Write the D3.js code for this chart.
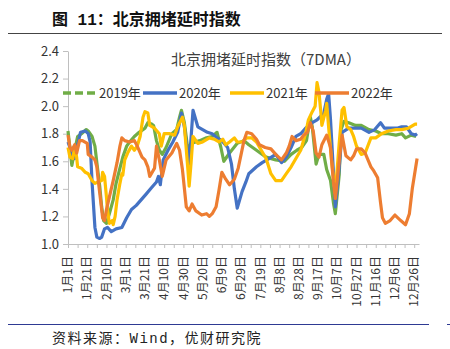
<!DOCTYPE html>
<html>
<head>
<meta charset="utf-8">
<script src="https://cdn.jsdelivr.net/npm/d3@7"></script>
<style>
  body { margin: 0; background: #fff; }
</style>
</head>
<body>
<div id="chart"></div>
<script>
// x labels every 20 days (day index from Jan 1)
var tickLabels = ["1月1日","1月21日","2月10日","3月1日","3月21日","4月10日","4月30日","5月20日","6月9日","6月29日",
                  "7月19日","8月8日","8月28日","9月17日","10月7日","10月27日","11月16日","12月6日","12月26日"];
var yTicks = [1.0, 1.2, 1.4, 1.6, 1.8, 2.0, 2.2, 2.4];
var seriesNames = ["2019年", "2020年", "2021年", "2022年"];

// [day, index]
var s2019 = [[0,1.82],[4,1.57],[7,1.68],[10,1.78],[14,1.80],[19,1.83],[21,1.82],[25,1.78],[28,1.71],[30,1.59],
  [33,1.42],[35,1.27],[37,1.17],[40,1.15],[43,1.22],[47,1.32],[50,1.44],[54,1.55],[57,1.63],[61,1.71],[64,1.74],
  [69,1.78],[74,1.81],[80,1.84],[83,1.88],[87,1.87],[89,1.86],[92,1.75],[95,1.68],[98,1.65],[102,1.70],[108,1.80],
  [113,1.83],[116,1.92],[118,1.97],[121,1.88],[124,1.72],[126,1.70],[129,1.73],[137,1.75],[144,1.77],[150,1.78],
  [155,1.81],[159,1.70],[162,1.60],[168,1.66],[176,1.73],[183,1.75],[188,1.72],[196,1.68],[206,1.63],[216,1.61],
  [225,1.60],[232,1.65],[238,1.68],[243,1.70],[248,1.75],[252,1.92],[254,1.85],[258,1.58],[261,1.65],[266,1.65],
  [269,1.54],[273,1.46],[276,1.30],[278,1.22],[282,1.50],[284,1.83],[287,1.89],[292,1.88],[299,1.86],[305,1.86],
  [313,1.83],[320,1.82],[326,1.80],[333,1.80],[341,1.79],[347,1.80],[351,1.77],[357,1.79],[362,1.78]];

var s2020 = [[0,1.74],[4,1.66],[7,1.62],[10,1.72],[13,1.81],[18,1.82],[21,1.80],[23,1.74],[25,1.45],[28,1.12],
  [30,1.05],[33,1.04],[35,1.05],[38,1.11],[41,1.12],[45,1.09],[50,1.11],[56,1.12],[61,1.19],[66,1.25],[71,1.28],
  [76,1.32],[81,1.36],[87,1.41],[92,1.45],[94,1.49],[96,1.43],[99,1.61],[104,1.68],[109,1.74],[114,1.81],[118,1.95],
  [121,1.85],[124,1.68],[126,1.58],[130,1.97],[135,1.85],[140,1.83],[145,1.81],[150,1.80],[155,1.77],[160,1.75],
  [166,1.70],[170,1.58],[173,1.40],[176,1.26],[181,1.38],[185,1.45],[188,1.51],[196,1.56],[202,1.59],[209,1.62],
  [216,1.65],[222,1.59],[227,1.63],[232,1.70],[237,1.78],[242,1.80],[247,1.84],[254,1.88],[259,1.90],[266,1.95],
  [269,2.05],[271,2.09],[273,1.90],[275,1.65],[278,1.27],[282,1.55],[285,1.81],[292,1.84],[299,1.84],[305,1.84],
  [313,1.81],[319,1.83],[325,1.88],[329,1.84],[335,1.84],[342,1.84],[347,1.85],[352,1.85],[357,1.80],[361,1.79],[363,1.80]];

var s2021 = [[0,1.70],[2,1.63],[5,1.62],[7,1.71],[9,1.63],[10,1.56],[14,1.55],[18,1.52],[21,1.51],[25,1.46],
  [28,1.44],[31,1.45],[35,1.46],[36,1.52],[38,1.49],[40,1.34],[41,1.25],[43,1.15],[46,1.17],[47,1.14],[49,1.20],
  [51,1.32],[54,1.44],[56,1.51],[57,1.50],[59,1.61],[62,1.66],[66,1.71],[69,1.68],[72,1.71],[75,1.78],[78,1.92],
  [80,1.96],[83,1.95],[85,1.86],[90,1.84],[95,1.80],[97,1.71],[100,1.80],[106,1.80],[111,1.79],[114,1.85],[119,1.92],
  [121,1.86],[124,1.60],[126,1.42],[128,1.59],[130,1.78],[135,1.73],[140,1.74],[147,1.77],[152,1.76],[157,1.74],
  [161,1.76],[164,1.72],[168,1.74],[173,1.77],[176,1.74],[181,1.74],[186,1.77],[191,1.77],[196,1.74],[201,1.68],
  [206,1.62],[211,1.51],[216,1.46],[222,1.46],[227,1.51],[232,1.56],[237,1.62],[242,1.68],[247,1.80],[250,1.90],
  [254,1.96],[257,2.00],[259,2.17],[261,2.10],[263,1.95],[264,1.86],[268,1.97],[269,2.02],[271,1.85],[274,1.61],
  [277,1.42],[278,1.37],[282,1.73],[285,1.97],[287,1.99],[290,1.85],[294,1.83],[297,1.78],[300,1.71],[305,1.65],
  [309,1.66],[315,1.77],[320,1.77],[326,1.80],[333,1.82],[341,1.83],[347,1.83],[354,1.84],[361,1.87],[363,1.87]];

var s2022 = [[0,1.79],[2,1.70],[4,1.68],[7,1.72],[9,1.66],[12,1.75],[15,1.75],[20,1.73],[21,1.65],[25,1.63],
  [28,1.61],[30,1.56],[31,1.49],[33,1.37],[35,1.25],[36,1.19],[38,1.17],[40,1.25],[43,1.34],[47,1.46],[51,1.59],
  [54,1.71],[56,1.77],[59,1.75],[64,1.74],[69,1.75],[72,1.71],[77,1.63],[80,1.61],[83,1.56],[85,1.49],[90,1.55],
  [92,1.71],[95,1.61],[98,1.49],[102,1.61],[108,1.66],[113,1.73],[116,1.68],[119,1.54],[123,1.27],[126,1.24],
  [129,1.29],[133,1.24],[139,1.21],[144,1.22],[147,1.20],[150,1.22],[154,1.27],[157,1.39],[160,1.52],[164,1.47],
  [168,1.43],[173,1.47],[177,1.55],[180,1.65],[183,1.75],[186,1.81],[191,1.80],[196,1.76],[199,1.72],[205,1.70],
  [211,1.69],[216,1.65],[222,1.61],[227,1.66],[230,1.71],[233,1.78],[237,1.75],[242,1.76],[245,1.79],[249,1.81],
  [252,1.88],[255,1.82],[258,1.66],[261,1.63],[264,1.72],[269,1.79],[273,1.70],[276,1.45],[278,1.33],[282,1.60],
  [285,1.79],[289,1.64],[294,1.61],[297,1.64],[300,1.69],[305,1.69],[309,1.66],[315,1.56],[318,1.53],[322,1.48],
  [325,1.30],[327,1.19],[330,1.15],[335,1.17],[340,1.21],[346,1.17],[351,1.14],[355,1.22],[358,1.40],[363,1.62]];

var colors = ["#70AD47", "#4472C4", "#FFC000", "#ED7D31"];
var allSeries = [s2019, s2020, s2021, s2022];

var w = 450, h = 349;
var cjk = "'Noto Sans CJK SC', 'Noto Sans', sans-serif";

var svg = d3.select("#chart").append("svg")
    .attr("width", w)
    .attr("height", h)
    .style("background", "#fff");

// report title
svg.append("text")
    .text("图 11：北京拥堵延时指数")
    .attr("x", 52)
    .attr("y", 25)
    .style("font-family", "'Liberation Mono', " + cjk)
    .style("font-weight", "bold")
    .style("font-size", "16px")
    .style("fill", "#111");

svg.append("line")
    .attr("x1", 8).attr("x2", 442)
    .attr("y1", 33.5).attr("y2", 33.5)
    .style("stroke", "#444")
    .style("stroke-width", 1);

var x = d3.scaleLinear().domain([0, 365]).range([68, 419]);
var y = d3.scaleLinear().domain([1.0, 2.4]).range([244, 51]);

// y axis
var yAxis = svg.append("g")
    .attr("transform", "translate(68,0)")
    .call(d3.axisLeft(y).tickValues(yTicks).tickSize(5).tickSizeOuter(0).tickPadding(4).tickFormat(d3.format(".1f")));
yAxis.selectAll("path, line").style("stroke", "#BFBFBF");
yAxis.selectAll("text")
    .style("font-family", cjk)
    .style("font-size", "13px")
    .style("fill", "#333");

// x axis: ticks every 10 days
var xTickVals = d3.range(0, 361, 10);
var xAxis = svg.append("g")
    .attr("transform", "translate(0,244)")
    .call(d3.axisBottom(x).tickValues(xTickVals).tickSize(4).tickSizeOuter(0).tickFormat(""));
xAxis.selectAll("path, line").style("stroke", "#BFBFBF");

svg.selectAll(".xlab")
    .data(tickLabels)
    .enter()
    .append("text")
    .attr("class", "xlab")
    .text(function(d) { return d; })
    .attr("transform", function(d, i) { return "translate(" + x(i * 20) + ",256) rotate(-90)"; })
    .attr("dy", "0.35em")
    .style("text-anchor", "end")
    .style("font-family", cjk)
    .style("font-size", "12px")
    .style("fill", "#333");

// lines
var line = d3.line()
    .x(function(d) { return x(d[0]); })
    .y(function(d) { return y(d[1]); });

svg.selectAll(".series")
    .data(allSeries)
    .enter()
    .append("path")
    .attr("class", "series")
    .attr("d", line)
    .style("fill", "none")
    .style("stroke", function(d, i) { return colors[i]; })
    .style("stroke-width", 3.2)
    .style("stroke-linejoin", "round");

// chart title
svg.append("text")
    .text("北京拥堵延时指数（7DMA）")
    .attr("x", 266)
    .attr("y", 65)
    .style("text-anchor", "middle")
    .style("font-family", cjk)
    .style("font-size", "15px")
    .style("fill", "#404040");

// legend
var legX = [63, 143, 230, 315];
var leg = svg.selectAll(".leg")
    .data(seriesNames)
    .enter()
    .append("g")
    .attr("class", "leg")
    .attr("transform", function(d, i) { return "translate(" + legX[i] + ",93)"; });
leg.append("line")
    .attr("x1", 0).attr("x2", 34)
    .style("stroke", function(d, i) { return colors[i]; })
    .style("stroke-width", 3.5)
    .style("stroke-dasharray", function(d, i) { return i == 0 ? "8,4" : null; });
leg.append("text")
    .text(function(d) { return d; })
    .attr("x", 36)
    .attr("dy", "0.35em")
    .style("font-family", cjk)
    .style("font-size", "13px")
    .style("fill", "#333");

// footer
svg.append("line")
    .attr("x1", 8).attr("x2", 429)
    .attr("y1", 324.5).attr("y2", 324.5)
    .style("stroke", "#2E3A93")
    .style("stroke-width", 1);
svg.append("line")
    .attr("x1", 447).attr("x2", 450)
    .attr("y1", 324.5).attr("y2", 324.5)
    .style("stroke", "#2E3A93")
    .style("stroke-width", 1);

svg.append("text")
    .text("资料来源：Wind，优财研究院")
    .attr("x", 52)
    .attr("y", 343)
    .style("font-family", "'Liberation Mono', " + cjk)
    .style("font-size", "14px")
    .style("letter-spacing", "1.5px")
    .style("fill", "#222");
</script>
</body>
</html>
